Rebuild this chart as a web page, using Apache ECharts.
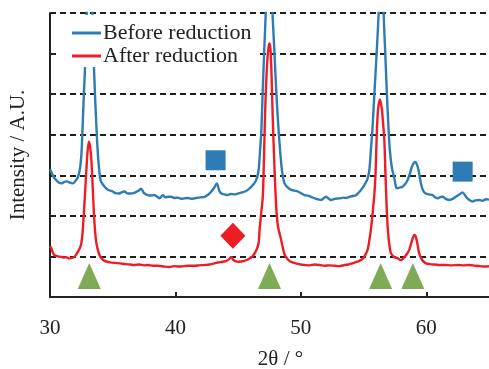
<!DOCTYPE html>
<html>
<head>
<meta charset="utf-8">
<script src="https://cdn.jsdelivr.net/npm/echarts@6/dist/echarts.min.js"></script>
<style>html,body{margin:0;padding:0;background:#fff;}#c{width:489px;height:369px;}</style>
</head>
<body>
<div id="c"></div>
<script>
const xTicks = [30, 40, 50, 60];
const beforeTheta = [30.0,30.1,30.3,30.5,30.7,30.9,31.1,31.3,31.43,31.6,31.83,32.0,32.23,32.35,32.44,32.52,32.6,32.7,32.8,32.9,33.0,33.15,33.3,33.4,33.5,33.6,33.7,33.8,33.9,34.03,34.2,34.48,34.7,35.0,35.2,35.5,35.7,35.94,36.2,36.47,36.8,37.05,37.26,37.5,37.8,38.05,38.33,38.55,38.73,38.99,39.2,39.45,39.65,39.9,40.2,40.45,40.7,41.0,41.25,41.5,41.8,42.1,42.33,42.6,42.86,43.1,43.3,43.5,43.66,43.9,44.18,44.4,44.7,44.98,45.3,45.55,45.77,46.0,46.17,46.44,46.63,46.75,46.85,46.95,47.07,47.2,47.35,47.47,47.6,47.74,47.9,48.05,48.25,48.43,48.55,48.7,48.95,49.23,49.5,49.76,50.05,50.3,50.55,50.8,51.2,51.6,52.0,52.2,52.4,52.7,53.07,53.4,53.6,53.87,54.15,54.4,54.6,54.8,55.06,55.32,55.46,55.6,55.7,55.86,56.04,56.2,56.4,56.6,56.73,56.86,56.98,57.1,57.25,57.45,57.6,57.7,57.9,58.1,58.3,58.5,58.7,58.85,59.0,59.12,59.25,59.38,59.57,59.75,59.97,60.2,60.5,60.7,60.9,61.1,61.3,61.55,61.82,62.1,62.35,62.6,62.9,63.1,63.28,63.5,63.68,63.9,64.2,64.5,64.74,65.0];
const beforeIntensity = [3.15,3.09,2.95,2.88,2.82,2.8,2.83,2.85,2.84,2.82,2.8,2.85,2.96,3.1,3.29,3.6,4.2,5.0,5.7,6.6,8.2,10.5,8.2,6.6,5.7,4.9,4.2,3.6,3.2,2.88,2.78,2.68,2.63,2.6,2.56,2.55,2.58,2.6,2.55,2.55,2.58,2.62,2.67,2.56,2.51,2.5,2.51,2.47,2.43,2.51,2.46,2.47,2.47,2.44,2.45,2.42,2.43,2.44,2.42,2.43,2.45,2.46,2.47,2.52,2.6,2.7,2.8,2.62,2.55,2.53,2.51,2.54,2.53,2.55,2.58,2.6,2.64,2.7,2.76,2.88,3.13,3.62,4.1,5.0,6.0,7.0,8.5,10,8.5,7.0,6.0,5.0,4.0,3.3,3.0,2.8,2.7,2.64,2.62,2.6,2.55,2.51,2.5,2.47,2.42,2.39,2.47,2.43,2.39,2.42,2.43,2.45,2.44,2.47,2.49,2.51,2.57,2.64,2.76,2.92,3.13,3.7,4.1,5.0,6.0,7.0,9.5,7.0,6.0,5.0,4.2,3.6,3.2,2.92,2.7,2.68,2.7,2.72,2.78,2.88,3.05,3.21,3.3,3.33,3.27,3.13,2.8,2.62,2.55,2.53,2.51,2.46,2.43,2.46,2.47,2.42,2.39,2.42,2.47,2.52,2.58,2.5,2.43,2.38,2.35,2.38,2.39,2.37,2.41,2.4];
const afterTheta = [30.0,30.1,30.25,30.37,30.6,30.9,31.1,31.3,31.5,31.7,31.9,32.1,32.23,32.4,32.5,32.6,32.7,32.8,32.9,33.0,33.1,33.2,33.3,33.4,33.5,33.6,33.7,33.8,33.95,34.15,34.35,34.7,35.15,35.6,36.0,36.4,36.7,37.1,37.5,37.8,38.2,38.6,39.1,39.5,39.9,40.3,40.7,41.1,41.5,41.9,42.33,42.7,43.1,43.4,43.8,44.06,44.3,44.45,44.6,44.8,45.1,45.5,45.8,46.0,46.17,46.45,46.63,46.72,46.85,46.97,47.05,47.12,47.2,47.32,47.42,47.5,47.58,47.66,47.76,47.86,47.96,48.06,48.2,48.4,48.7,48.95,49.2,49.6,50.0,50.3,50.7,51.1,51.5,51.9,52.3,52.7,53.07,53.5,53.8,54.1,54.5,54.8,55.0,55.2,55.35,55.46,55.6,55.72,55.85,55.95,56.05,56.15,56.3,56.45,56.55,56.65,56.75,56.86,56.95,57.05,57.18,57.45,57.7,57.97,58.15,58.3,58.5,58.64,58.85,59.05,59.15,59.3,59.44,59.7,59.97,60.3,60.7,61.1,61.56,62.0,62.5,63.0,63.4,63.9,64.3,64.7,65.0];
const afterIntensity = [1.25,1.2,1.08,1.03,1.0,0.99,0.97,0.98,0.95,0.96,0.98,1.05,1.12,1.22,1.33,1.6,2.07,2.6,3.13,3.6,3.83,3.7,3.37,2.75,2.07,1.6,1.33,1.18,1.03,0.94,0.89,0.86,0.84,0.83,0.81,0.8,0.79,0.8,0.78,0.79,0.77,0.77,0.75,0.74,0.76,0.75,0.76,0.77,0.77,0.78,0.79,0.8,0.83,0.85,0.87,0.89,0.94,0.99,0.92,0.88,0.87,0.89,0.93,0.97,1.01,1.15,1.33,1.7,2.1,2.5,3.3,4.2,5.0,5.8,6.15,6.25,6.1,5.5,4.4,3.5,2.7,2.1,1.7,1.45,1.05,0.93,0.87,0.83,0.8,0.79,0.78,0.8,0.79,0.77,0.78,0.77,0.76,0.79,0.8,0.83,0.87,0.91,0.97,1.07,1.2,1.4,1.7,2.06,2.5,3.0,4.0,4.6,4.87,4.65,4.3,3.9,3.0,2.07,1.6,1.3,1.08,0.98,0.96,0.91,0.95,1.0,1.08,1.16,1.38,1.53,1.5,1.3,1.07,0.9,0.83,0.81,0.8,0.79,0.79,0.78,0.79,0.78,0.79,0.77,0.76,0.75,0.76];
// phase markers
const squareTheta = [43.2, 62.9];
const squareLevel = [3.37, 3.09];
const diamondTheta = [44.58];
const diamondLevel = [1.51];
const triangleTheta = [33.13, 47.5, 56.36, 58.93];
const triangleLevel = [0.52, 0.52, 0.52, 0.52];

const pair = (xs, ys) => xs.map((x, i) => [x, ys[i]]);
const FONT = "'Liberation Serif', 'Times New Roman', serif";
const BLUE = '#2e7cb6', RED = '#ee1c25', GREEN = '#7fab57';

const chart = echarts.init(document.getElementById('c'), null, {renderer: 'canvas'});
chart.setOption({
  animation: false,
  backgroundColor: '#fff',
  textStyle: {fontFamily: FONT},
  grid: {left: 50, right: 0, top: 13, bottom: 72, containLabel: false, outerBoundsMode: 'none'},
  legend: {
    orient: 'vertical', left: 60, top: 15, z: 20,
    padding: [7, 8, 0, 12], itemGap: 1,
    backgroundColor: '#fff',
    itemWidth: 29, itemHeight: 3, icon: 'rect',
    textStyle: {fontFamily: FONT, fontSize: 22, color: '#222', lineHeight: 18, padding: [0, 0, 0, -3]},
    data: ['Before reduction', 'After reduction']
  },
  xAxis: {
    type: 'value', min: 30, max: 65, interval: 10,
    name: '2θ / °', nameLocation: 'middle', nameGap: 52,
    nameTextStyle: {fontFamily: FONT, fontSize: 21, color: '#222', padding: [0, 0, 0, 22]},
    axisLine: {show: true, onZero: false, lineStyle: {color: '#222', width: 2}},
    axisTick: {show: true, inside: true, length: 5, lineStyle: {color: '#222', width: 2}, customValues: xTicks},
    axisLabel: {fontFamily: FONT, fontSize: 21, color: '#222', margin: 21, customValues: xTicks},
    splitLine: {show: false}
  },
  yAxis: {
    type: 'value', min: 0, max: 7, interval: 1,
    name: 'Intensity / A.U.', nameLocation: 'middle', nameGap: 21,
    nameTextStyle: {fontFamily: FONT, fontSize: 21, color: '#222'},
    axisLine: {show: true, lineStyle: {color: '#222', width: 2}},
    axisTick: {show: false},
    axisLabel: {show: false},
    splitLine: {show: true, lineStyle: {color: '#1e1e1e', width: 2, type: [6, 4]}}
  },
  series: [
    {name: 'Before reduction', type: 'line', data: pair(beforeTheta, beforeIntensity), symbol: 'none', smooth: 0.3, clip: true,
     color: BLUE, lineStyle: {color: BLUE, width: 2.4}, z: 2},
    {name: 'After reduction', type: 'line', data: pair(afterTheta, afterIntensity), symbol: 'none', smooth: 0.3, clip: true,
     color: RED, lineStyle: {color: RED, width: 2.4}, z: 2},
    {name: 'square', type: 'scatter', data: pair(squareTheta, squareLevel), symbol: 'rect', symbolSize: 20,
     itemStyle: {color: BLUE, opacity: 1}, z: 3},
    {name: 'diamond', type: 'scatter', data: pair(diamondTheta, diamondLevel), symbol: 'diamond', symbolSize: [25, 26],
     itemStyle: {color: RED, opacity: 1}, z: 3},
    {name: 'triangle', type: 'scatter', data: pair(triangleTheta, triangleLevel), symbol: 'triangle', symbolSize: [23, 26],
     itemStyle: {color: GREEN, opacity: 1}, z: 3}
  ]
});
</script>
</body>
</html>
